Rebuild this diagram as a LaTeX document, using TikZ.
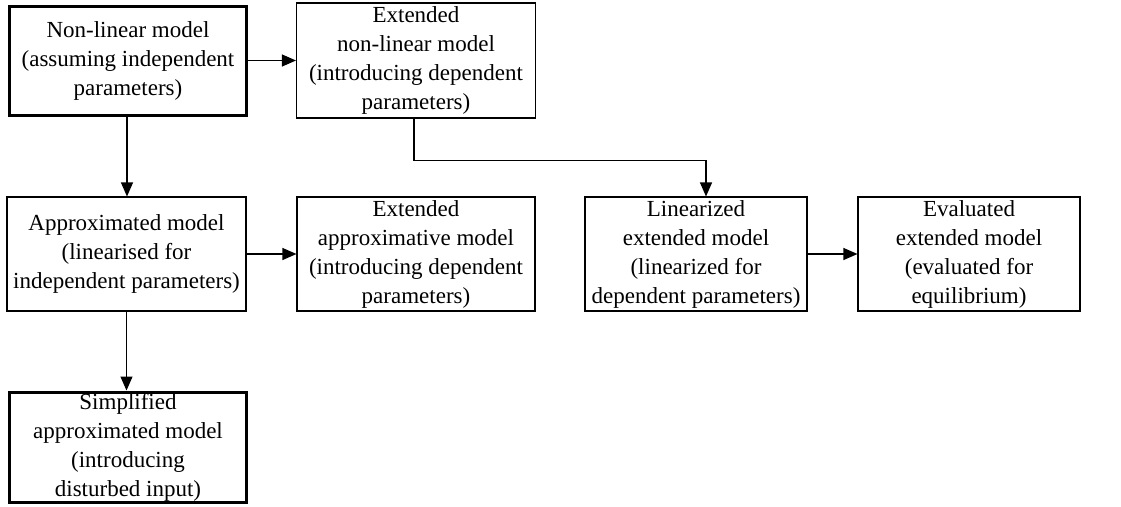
\documentclass[tikz,border=0pt]{standalone}
\usepackage{fontspec}
\setmainfont{Liberation Serif}
\usetikzlibrary{arrows.meta}
\begin{document}
\begin{tikzpicture}[x=1pt,y=-1pt,
  box/.style={draw, line width=1.1pt, inner sep=0pt, align=center,
    font=\fontsize{23}{29}\selectfont},
  heavy/.style={box, line width=3pt},
  arr/.style={line width=1.1pt, -{Triangle[length=14pt,width=12pt]}}]
\useasboundingbox (0,0) rectangle (1121,506);
% first row
\node[heavy, minimum width=237, minimum height=109] (a) at (128,60.5)
  {Non-linear model\\(assuming independent\\parameters)};
\node[box, minimum width=239, minimum height=115] (b) at (416,60.5)
  {Extended\\non-linear model\\(introducing dependent\\parameters)};
% second row
\node[box, minimum width=239, minimum height=114] (c) at (126.5,254)
  {Approximated model\\(linearised for\\independent parameters)};
\node[box, minimum width=238, minimum height=114] (d) at (416,254)
  {Extended\\approximative model\\(introducing dependent\\parameters)};
\node[box, minimum width=222, minimum height=114] (e) at (696,254)
  {Linearized\\extended model\\(linearized for\\dependent parameters)};
\node[box, minimum width=222, minimum height=114] (f) at (969,254)
  {Evaluated\\extended model\\(evaluated for\\equilibrium)};
% third row
\node[heavy, minimum width=237, minimum height=110] (g) at (128,447)
  {Simplified\\approximated model\\(introducing\\disturbed input)};
% connectors
\draw[arr] (a.east) -- (b.west);
\draw[arr] ([xshift=-1]a.south) -- ([xshift=-1]a.south |- c.north);
\draw[arr] (c.east) -- (d.west);
\draw[arr] (e.east) -- (f.west);
\draw[arr] (c.south) -- (c.south |- g.north);
\draw[arr] ([xshift=-2]b.south) -- ++(0,42) -| ([xshift=10]e.north);
\end{tikzpicture}
\end{document}
